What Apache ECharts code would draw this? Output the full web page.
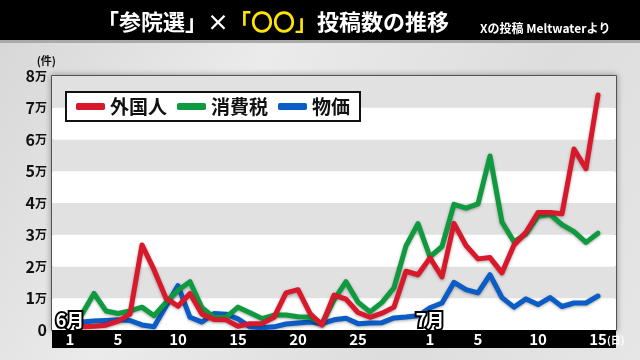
<!DOCTYPE html>
<html><head><meta charset="utf-8">
<script src="https://cdn.jsdelivr.net/npm/echarts@6/dist/echarts.min.js"></script>
<style>
html,body{margin:0;padding:0;width:640px;height:360px;overflow:hidden;background:#e2e2e2;}
#chart{position:absolute;left:0;top:0;width:640px;height:360px;}
</style></head><body>
<div id="chart"></div>
<script>
const FONT = '"Noto Sans CJK JP", "Noto Sans", sans-serif';
const seriesNames = ['外国人', '消費税', '物価'];
const seriesColors = ['#d8192b', '#109a3f', '#0b5cc5'];
const days = ['6/2','6/3','6/4','6/5','6/6','6/7','6/8','6/9','6/10','6/11','6/12','6/13','6/14','6/15','6/16','6/17','6/18','6/19','6/20','6/21','6/22','6/23','6/24','6/25','6/26','6/27','6/28','6/29','6/30',
  '7/1','7/2','7/3','7/4','7/5','7/6','7/7','7/8','7/9','7/10','7/11','7/12','7/13','7/14','7/15'];
const foreigners = [1000,1200,1500,2800,5000,26800,19000,10000,7500,11500,5000,3300,3200,1200,2000,2000,4000,11700,12700,5200,1600,11000,9700,5500,4000,5300,7200,18500,17400,
  22700,16700,33600,26600,22400,22800,18000,26800,30800,37000,37000,36600,57000,50800,74000];
const consumptionTax = [5000,11500,6000,5200,6000,7200,4500,8700,12500,15200,7000,4000,4000,7200,5400,3600,4700,4700,4200,4000,2000,9500,15200,8800,5700,8700,13300,26500,33500,
  23000,26300,39600,38400,39700,54800,34000,27800,30300,35800,36400,33200,31000,27600,30500];
const prices = [2500,2800,3000,3200,3000,1600,1000,7500,14000,4000,2500,5200,5000,3500,1000,700,1000,1900,2200,2500,2000,3200,3700,2000,2200,2300,3800,4100,4500,
  7000,8500,15000,12700,11700,17400,10200,7200,9800,8000,10200,7400,8500,8500,10700];
const xTickDates = ['6/1','6/5','6/10','6/15','6/20','6/25','7/1','7/5','7/10','7/15'];
const xTickLabels = ['1','5','10','15','20','25','1','5','10','15'];
const xUnit = '(日)';
const yTickLabels = ['0','1万','2万','3万','4万','5万','6万','7万','8万'];
const monthMarks = [['6/1','6月'],['7/1','7月']];

function dayIndex(s){ const p = s.split('/'); const m = +p[0], d = +p[1]; return m === 6 ? d : 30 + d; }
const allValues = [foreigners, consumptionTax, prices];

const chart = echarts.init(document.getElementById('chart'), null, {renderer:'canvas'});
const xTickValues = xTickDates.map(dayIndex);
const X_MIN = -0.5, X_MAX = 46.5;

const baseGraphic = [
  {type:'rect', z:0, shape:{x:0,y:0,width:640,height:40}, style:{fill:'#000'}},
  {type:'rect', z:0, shape:{x:0,y:40,width:640,height:3}, style:{fill:'#a9a9a9'}}
];

const option = {
  animation: false,
  backgroundColor: new echarts.graphic.LinearGradient(0,0,1,1,[
    {offset:0,color:'#d6d6d6'},{offset:0.35,color:'#ebebeb'},{offset:0.7,color:'#dddddd'},{offset:1,color:'#e6e6e6'}]),
  graphic: baseGraphic,
  title: [
    {text:'{w|「参院選」×}{y|「〇〇」}{w|投稿数の推移}', left:92, top:6,
      textStyle:{rich:{
        w:{color:'#fff', fontSize:22, fontWeight:'bold', fontFamily:FONT},
        y:{color:'#ffe500', fontSize:22, fontWeight:'bold', fontFamily:FONT}}}},
    {text:'Xの投稿 Meltwaterより', left:475, top:17,
      textStyle:{color:'#fff', fontSize:12, fontWeight:'bold', fontFamily:FONT}}
  ],
  legend: {
    left:66, top:92, itemWidth:29, itemHeight:7, itemGap:10, icon:'roundRect',
    backgroundColor:'#fff', borderColor:'#111', borderWidth:2, padding:[5,10,5,10],
    textStyle:{fontSize:19, fontWeight:'bold', color:'#111', fontFamily:FONT},
    data: seriesNames
  },
  grid: {left:52, right:24, top:76, bottom:30, show:true, borderColor:'#333', borderWidth:1.5,
    backgroundColor:'#fff', shadowBlur:6, shadowColor:'rgba(0,0,0,0.35)'},
  xAxis: {
    type:'value', min:X_MIN, max:X_MAX, z:10,
    axisLine:{show:false},
    axisTick:{show:false}, splitLine:{show:false},
    axisLabel:{
      customValues: xTickValues, showMinLabel:true, showMaxLabel:true,
      verticalAlign:'middle', margin:9, color:'#fff', fontSize:15, fontWeight:'bold', fontFamily:FONT,
      formatter: function(v){
        const i = xTickValues.indexOf(v);
        return i < 0 ? '' : xTickLabels[i];
      }
    }
  },
  yAxis: {
    type:'value', min:0, max:80000, interval:10000,
    name:'(件)', nameLocation:'end', nameGap:10,
    nameTextStyle:{fontSize:11, fontWeight:'bold', color:'#111', fontFamily:FONT, align:'right', padding:[0,2,0,0]},
    axisLine:{show:false}, axisTick:{show:false}, splitLine:{show:false},
    splitArea:{show:true, areaStyle:{color:['#ffffff','#e1e1e1']}},
    axisLabel:{margin:5, formatter:function(v){
        const t = yTickLabels[Math.round(v/10000)] || '';
        if (t.endsWith('万')) return '{n|' + t.slice(0,-1) + '}{u|万}';
        return '{n|' + t + '}';
      },
      rich:{ n:{fontSize:16, fontWeight:'bold', color:'#111', fontFamily:FONT},
             u:{fontSize:12, fontWeight:'bold', color:'#111', fontFamily:FONT}}}
  },
  series: seriesNames.map((name, k) => ({
    name: name, type:'line', symbol:'none', smooth:false,
    z: [4,3,2][k],
    color: seriesColors[k],
    lineStyle:{width:5, color:seriesColors[k], cap:'round', join:'round',
      shadowBlur:3, shadowColor:'rgba(0,0,0,0.35)', shadowOffsetY:1},
    data: days.map((d, i) => [dayIndex(d), allValues[k][i]])
  }))
};
chart.setOption(option);

const pL = chart.convertToPixel({gridIndex:0}, [X_MIN, 0]);
const pR = chart.convertToPixel({gridIndex:0}, [X_MAX, 0]);
const band = {type:'rect', z:1, shape:{x:pL[0], y:pL[1], width:pR[0]-pL[0], height:18}, style:{fill:'#000'}};
const marks = monthMarks.map(m => {
  const p = chart.convertToPixel({gridIndex:0}, [dayIndex(m[0]), 0]);
  return {type:'text', z:100, x:p[0], y:p[1]-1,
    style:{text:m[1], fill:'#fff', stroke:'#000', lineWidth:4, textAlign:'center', textVerticalAlign:'bottom',
      font:'bold 18px ' + FONT}};
});
const pLast = chart.convertToPixel({gridIndex:0}, [xTickValues[xTickValues.length-1], 0]);
const unit = {type:'text', z:100, x:pLast[0]+9, y:pLast[1]+10,
  style:{text:xUnit, fill:'#fff', textAlign:'left', textVerticalAlign:'middle', font:'bold 10px ' + FONT}};
chart.setOption({graphic: baseGraphic.concat([band], marks, [unit])});
</script>
</body></html>
